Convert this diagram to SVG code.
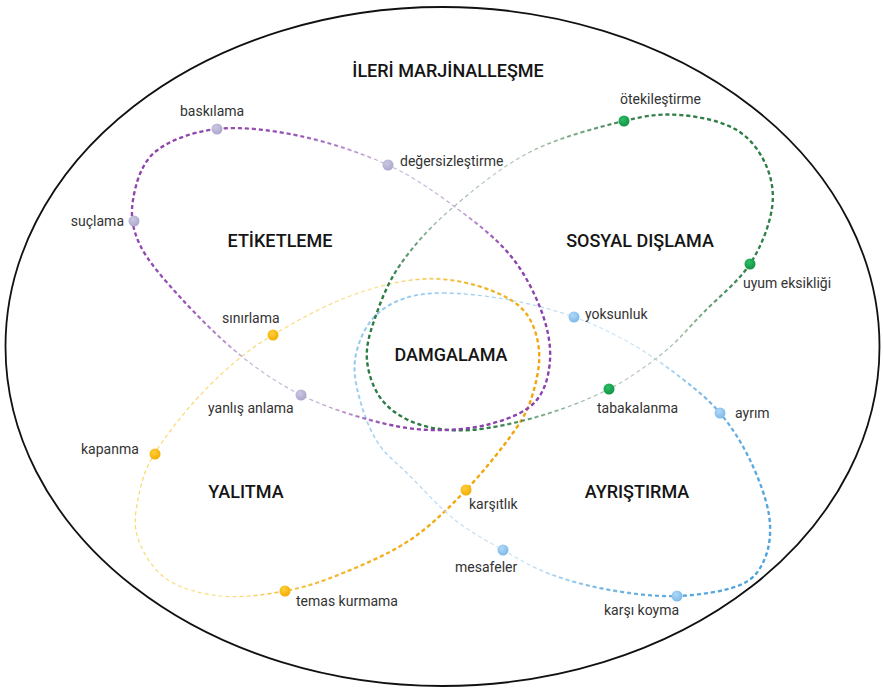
<svg xmlns="http://www.w3.org/2000/svg" xmlns:xlink="http://www.w3.org/1999/xlink" width="884" height="692" viewBox="0 0 884 692">
<style>
.lbl{font-family:Roboto,"Liberation Sans",sans-serif;font-size:14px;fill:#333;}
.hd{font-family:Roboto,"Liberation Sans",sans-serif;font-size:18px;font-weight:500;fill:#151515;text-anchor:middle;}
.loop{fill:none;stroke-dasharray:4 3;}
.thin{stroke-width:1.2;}
.thick{stroke-width:2.4;}
</style>
<defs>
<path id="pPurple" d="M217,129 C241.2,126.3 271.5,130 300,136 C328.5,142 362.2,153.2 388,165 C413.8,176.8 434.7,192 455,207 C475.3,222 495.7,237.8 510,255 C524.3,272.2 534.3,292.5 541,310 C547.7,327.5 551,344.7 550,360 C549,375.3 545,391.3 535,402 C525,412.7 507.5,419.3 490,424 C472.5,428.7 450,430.7 430,430 C410,429.3 391.5,425.8 370,420 C348.5,414.2 322.7,405.8 301,395 C279.3,384.2 260.2,371.3 240,355 C219.8,338.7 196.7,315.3 180,297 C163.3,278.7 147.8,261.2 140,245 C132.2,228.8 130.5,215.5 133,200 C135.5,184.5 141,163.8 155,152 C169,140.2 192.8,131.7 217,129 Z"/>
<path id="pGreen" d="M624,121 C649,114.8 661.5,113.7 680,115 C698.5,116.3 720.8,121 735,129 C749.2,137 758.8,149.8 765,163 C771.2,176.2 774.5,191.2 772,208 C769.5,224.8 761.5,246.5 750,264 C738.5,281.5 717.5,298.2 703,313 C688.5,327.8 678.7,340.3 663,353 C647.3,365.7 629.5,378.5 609,389 C588.5,399.5 563.2,409.2 540,416 C516.8,422.8 490.3,428.7 470,430 C449.7,431.3 432.7,429 418,424 C403.3,419 390.5,410.7 382,400 C373.5,389.3 368.2,373.7 367,360 C365.8,346.3 369.5,333.8 375,318 C380.5,302.2 387.5,283 400,265 C412.5,247 428.3,228.8 450,210 C471.7,191.2 501,166.8 530,152 C559,137.2 599,127.2 624,121 Z"/>
<path id="pYellow" d="M273,335 C289.3,325.2 313.5,311.5 333,303 C352.5,294.5 372.2,288 390,284 C407.8,280 423.3,278 440,279 C456.7,280 475.8,284.5 490,290 C504.2,295.5 516.8,302 525,312 C533.2,322 537.7,336.5 539,350 C540.3,363.5 537,379.7 533,393 C529,406.3 526.2,413.8 515,430 C503.8,446.2 483.5,471.7 466,490 C448.5,508.3 430.5,526.2 410,540 C389.5,553.8 363.8,564.5 343,573 C322.2,581.5 305.5,587.2 285,591 C264.5,594.8 240,598.2 220,596 C200,593.8 178.8,588.2 165,578 C151.2,567.8 141.2,549.7 137,535 C132.8,520.3 137,503.7 140,490 C143,476.3 146.2,467.5 155,453 C163.8,438.5 179.7,418.2 193,403 C206.3,387.8 221.7,373.3 235,362 C248.3,350.7 256.7,344.8 273,335 Z"/>
<path id="pBlue" d="M443,293 C461.3,293 488.2,296 510,300 C531.8,304 554,309.8 574,317 C594,324.2 612.3,333 630,343 C647.7,353 665,365.3 680,377 C695,388.7 708.3,399.2 720,413 C731.7,426.8 741.8,443 750,460 C758.2,477 766.5,498.7 769,515 C771.5,531.3 769.8,546.3 765,558 C760.2,569.7 754.7,578.7 740,585 C725.3,591.3 698.7,595.2 677,596 C655.3,596.8 631.2,593.7 610,590 C588.8,586.3 567.8,580.7 550,574 C532.2,567.3 518.8,559 503,550 C487.2,541 470.5,532.3 455,520 C439.5,507.7 422.8,488.8 410,476 C397.2,463.2 386.3,455.7 378,443 C369.7,430.3 363.8,413.8 360,400 C356.2,386.2 353.3,373 355,360 C356.7,347 362.5,332 370,322 C377.5,312 387.8,304.8 400,300 C412.2,295.2 424.7,293 443,293 Z"/>

<linearGradient id="gPurpleThin" gradientUnits="userSpaceOnUse" x1="140" y1="150" x2="545" y2="415">
<stop offset="0" stop-color="#8e44ad"/><stop offset="0.5" stop-color="#cdbfdc"/><stop offset="1" stop-color="#8e44ad"/>
</linearGradient>
<linearGradient id="gPurpleThick" gradientUnits="userSpaceOnUse" x1="140" y1="150" x2="545" y2="415">
<stop offset="0" stop-color="#8e44ad" stop-opacity="1"/><stop offset="0.25" stop-color="#8e44ad" stop-opacity="0.8"/><stop offset="0.42" stop-color="#8e44ad" stop-opacity="0"/><stop offset="0.62" stop-color="#8e44ad" stop-opacity="0"/><stop offset="0.75" stop-color="#8e44ad" stop-opacity="1"/><stop offset="1" stop-color="#8e44ad" stop-opacity="1"/>
</linearGradient>

<linearGradient id="gGreenThin" gradientUnits="userSpaceOnUse" x1="770" y1="140" x2="370" y2="420">
<stop offset="0" stop-color="#2e7d46"/><stop offset="0.5" stop-color="#bccbbf"/><stop offset="1" stop-color="#2e7d46"/>
</linearGradient>
<linearGradient id="gGreenThick" gradientUnits="userSpaceOnUse" x1="770" y1="140" x2="370" y2="420">
<stop offset="0" stop-color="#2e7d46" stop-opacity="1"/><stop offset="0.2" stop-color="#2e7d46" stop-opacity="0.9"/><stop offset="0.4" stop-color="#2e7d46" stop-opacity="0"/><stop offset="0.65" stop-color="#2e7d46" stop-opacity="0"/><stop offset="0.82" stop-color="#2e7d46" stop-opacity="1"/><stop offset="1" stop-color="#2e7d46" stop-opacity="1"/>
</linearGradient>

<linearGradient id="gYellowThin" gradientUnits="userSpaceOnUse" x1="545" y1="420" x2="200" y2="250">
<stop offset="0" stop-color="#f0a000"/><stop offset="0.35" stop-color="#f4be30"/><stop offset="0.55" stop-color="#f8e08a"/><stop offset="1" stop-color="#f6d55c"/>
</linearGradient>
<linearGradient id="gYellowThick" gradientUnits="userSpaceOnUse" x1="545" y1="420" x2="200" y2="250">
<stop offset="0" stop-color="#f0a000" stop-opacity="1"/><stop offset="0.3" stop-color="#f2b020" stop-opacity="0.8"/><stop offset="0.5" stop-color="#f2b020" stop-opacity="0"/><stop offset="1" stop-color="#f2b020" stop-opacity="0"/>
</linearGradient>

<linearGradient id="gBlueThin" gradientUnits="userSpaceOnUse" x1="770" y1="560" x2="355" y2="330">
<stop offset="0" stop-color="#4fa3dc"/><stop offset="0.5" stop-color="#cfe6f6"/><stop offset="1" stop-color="#8cc4ec"/>
</linearGradient>
<linearGradient id="gBlueThick" gradientUnits="userSpaceOnUse" x1="770" y1="560" x2="355" y2="330">
<stop offset="0" stop-color="#4fa3dc" stop-opacity="1"/><stop offset="0.28" stop-color="#4fa3dc" stop-opacity="0.6"/><stop offset="0.42" stop-color="#4fa3dc" stop-opacity="0"/><stop offset="0.8" stop-color="#8cc4ec" stop-opacity="0"/><stop offset="1" stop-color="#8cc4ec" stop-opacity="0.7"/>
</linearGradient>

<radialGradient id="dPurple" cx="0.4" cy="0.35" r="0.7"><stop offset="0" stop-color="#cac7e2"/><stop offset="1" stop-color="#a9a5cc"/></radialGradient>
<radialGradient id="dGreen" cx="0.4" cy="0.35" r="0.7"><stop offset="0" stop-color="#2cbf66"/><stop offset="1" stop-color="#128f43"/></radialGradient>
<radialGradient id="dYellow" cx="0.4" cy="0.35" r="0.7"><stop offset="0" stop-color="#ffcf3a"/><stop offset="1" stop-color="#f2aa00"/></radialGradient>
<radialGradient id="dBlue" cx="0.4" cy="0.35" r="0.7"><stop offset="0" stop-color="#b0d8f7"/><stop offset="1" stop-color="#7ab7e8"/></radialGradient>
</defs>

<rect width="884" height="692" fill="#ffffff"/>
<ellipse id="outer" cx="442.5" cy="346.5" rx="437" ry="339.5" fill="none" stroke="#111" stroke-width="1.8"/>

<g id="connectors">
<use xlink:href="#pYellow" href="#pYellow" class="loop thin" stroke="url(#gYellowThin)"/>
<use xlink:href="#pYellow" href="#pYellow" class="loop thick" stroke="url(#gYellowThick)"/>
<use xlink:href="#pBlue" href="#pBlue" class="loop thin" stroke="url(#gBlueThin)"/>
<use xlink:href="#pBlue" href="#pBlue" class="loop thick" stroke="url(#gBlueThick)"/>
<use xlink:href="#pGreen" href="#pGreen" class="loop thin" stroke="url(#gGreenThin)"/>
<use xlink:href="#pGreen" href="#pGreen" class="loop thick" stroke="url(#gGreenThick)"/>
<use xlink:href="#pPurple" href="#pPurple" class="loop thin" stroke="url(#gPurpleThin)"/>
<use xlink:href="#pPurple" href="#pPurple" class="loop thick" stroke="url(#gPurpleThick)"/>
</g>

<g id="headings">
<text id="ileri-marjinallesme" class="hd" x="448" y="77">İLERİ MARJİNALLEŞME</text>
<text id="etiketleme" class="hd" x="280" y="247">ETİKETLEME</text>
<text id="sosyal-dislama" class="hd" x="640" y="247">SOSYAL DIŞLAMA</text>
<text id="damgalama" class="hd" x="451" y="361">DAMGALAMA</text>
<text id="yalitma" class="hd" x="246" y="498">YALITMA</text>
<text id="ayristirma" class="hd" x="637" y="498">AYRIŞTIRMA</text>
</g>

<g id="node-baskilama"><circle cx="217" cy="129" r="5.5" fill="url(#dPurple)"/><text class="lbl" x="180" y="116">baskılama</text></g>
<g id="node-degersizlestirme"><circle cx="388" cy="165" r="5.5" fill="url(#dPurple)"/><text class="lbl" x="400" y="166">değersizleştirme</text></g>
<g id="node-suclama"><circle cx="134" cy="221" r="5.5" fill="url(#dPurple)"/><text class="lbl" x="124" y="226" text-anchor="end">suçlama</text></g>
<g id="node-yanlis-anlama"><circle cx="301" cy="395" r="5.5" fill="url(#dPurple)"/><text class="lbl" x="208" y="413">yanlış anlama</text></g>

<g id="node-otekilestirme"><circle cx="624" cy="121" r="5.5" fill="url(#dGreen)"/><text class="lbl" x="620" y="104">ötekileştirme</text></g>
<g id="node-uyum-eksikligi"><circle cx="750" cy="264" r="5.5" fill="url(#dGreen)"/><text class="lbl" x="743" y="288">uyum eksikliği</text></g>
<g id="node-tabakalanma"><circle cx="609" cy="389" r="5.5" fill="url(#dGreen)"/><text class="lbl" x="597" y="413">tabakalanma</text></g>

<g id="node-sinirlama"><circle cx="273" cy="335" r="5.5" fill="url(#dYellow)"/><text class="lbl" x="222" y="323">sınırlama</text></g>
<g id="node-kapanma"><circle cx="155" cy="454" r="5.5" fill="url(#dYellow)"/><text class="lbl" x="81" y="454">kapanma</text></g>
<g id="node-karsitlik"><circle cx="466" cy="490" r="5.5" fill="url(#dYellow)"/><text class="lbl" x="469" y="509">karşıtlık</text></g>
<g id="node-temas-kurmama"><circle cx="285" cy="591" r="5.5" fill="url(#dYellow)"/><text class="lbl" x="296" y="606">temas kurmama</text></g>

<g id="node-yoksunluk"><circle cx="574" cy="317" r="5.5" fill="url(#dBlue)"/><text class="lbl" x="585" y="319">yoksunluk</text></g>
<g id="node-ayrim"><circle cx="720" cy="413" r="5.5" fill="url(#dBlue)"/><text class="lbl" x="735" y="418">ayrım</text></g>
<g id="node-mesafeler"><circle cx="503" cy="550" r="5.5" fill="url(#dBlue)"/><text class="lbl" x="455" y="572">mesafeler</text></g>
<g id="node-karsi-koyma"><circle cx="677" cy="596" r="5.5" fill="url(#dBlue)"/><text class="lbl" x="604" y="615">karşı koyma</text></g>
</svg>
